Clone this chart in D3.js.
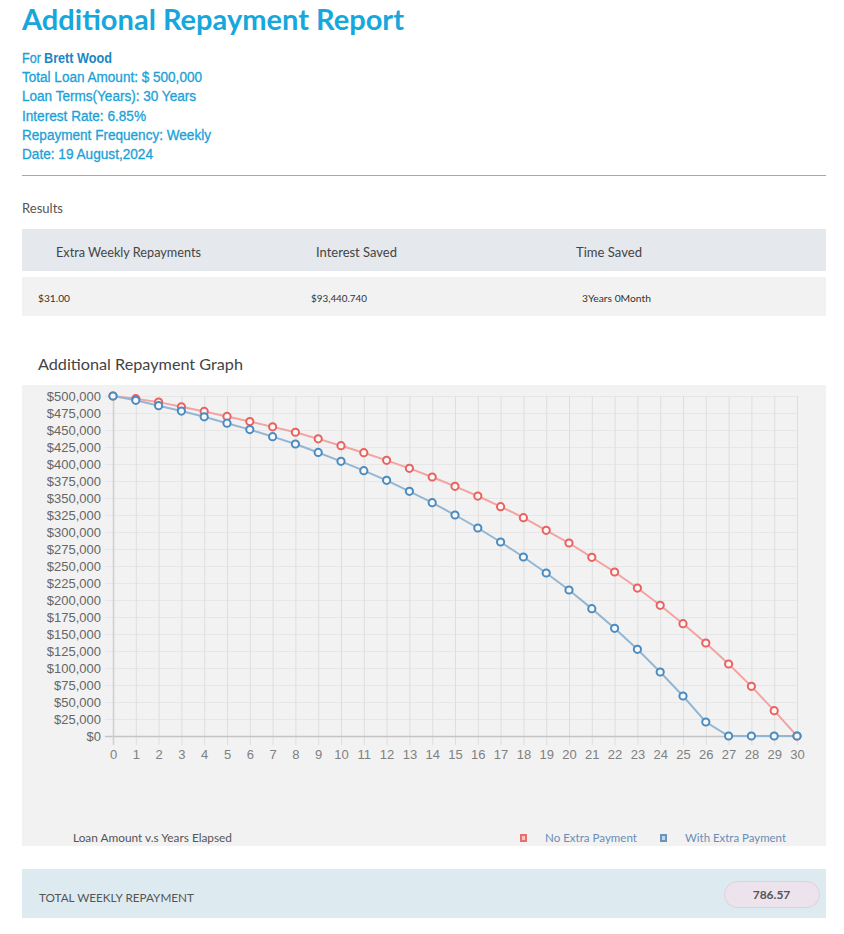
<!DOCTYPE html>
<html>
<head>
<meta charset="utf-8">
<script src="https://cdn.jsdelivr.net/npm/d3@7"></script>
<style>
  html, body { margin: 0; padding: 0; background: #fff; }
  svg { display: block; }
</style>
</head>
<body>
<script>
// ---------- data ----------
const years = d3.range(0, 31);
const noExtra = [500000, 496000, 491000, 484200, 477300, 469900, 462500, 454600, 446700, 437000,
  426900, 416600, 405400, 393600, 380900, 367200, 352900, 337300, 321100, 302400,
  283800, 262700, 241200, 217600, 192200, 165200, 136800, 105900, 73000, 37300, 0];
const withExtra = [500000, 493600, 485700, 477800, 469400, 460000, 450600, 440200, 429400, 417000,
  403900, 390200, 376000, 359800, 343100, 325000, 305900, 285300, 263200, 239700,
  214700, 187300, 158300, 127500, 94100, 58800, 20600, 0, 0, 0, 0];
const yTicks = d3.range(0, 500001, 25000);
const infoLines = [
  ["Total Loan Amount: $ 500,000", 180],
  ["Loan Terms(Years): 30 Years", 174],
  ["Interest Rate: 6.85%", 124],
  ["Repayment Frequency: Weekly", 189],
  ["Date: 19 August,2024", 131]
];
const tableHeaders = ["Extra Weekly Repayments", "Interest Saved", "Time Saved"];
const tableValues = ["$31.00", "$93,440.740", "3Years 0Month"];
const seriesNames = ["No Extra Payment", "With Extra Payment"];
const totalWeekly = "786.57";

// ---------- drawing ----------
const W = 844, H = 934;
const svg = d3.select("body").append("svg").attr("width", W).attr("height", H);

function txt(x, y, s, opts) {
  const t = svg.append("text").attr("x", x).attr("y", y).text(s)
    .attr("font-family", opts.family || "Lato, sans-serif")
    .attr("font-size", opts.size || 12)
    .attr("fill", opts.fill || "#555")
    .attr("font-weight", opts.weight || "normal");
  if (opts.anchor) t.attr("text-anchor", opts.anchor);
  if (opts.len) t.attr("textLength", opts.len).attr("lengthAdjust", "spacingAndGlyphs");
  if (opts.stroke) t.attr("stroke", opts.fill).attr("stroke-width", opts.stroke);
  return t;
}

const ARIAL = "'Liberation Sans', Arial, sans-serif";

// Header
txt(22, 30, "Additional Repayment Report", {size: 29, weight: "bold", fill: "#17a7db", len: 382});
txt(22, 63, "For", {size: 14, fill: "#1ba1d7", family: ARIAL, len: 19, stroke: 0.3});
txt(44, 63, "Brett Wood", {size: 14, fill: "#1a86c6", family: ARIAL, weight: "bold", len: 68});
infoLines.forEach((d, i) => {
  txt(22, 82 + i * 19.3, d[0], {size: 14, fill: "#1ba1d7", family: ARIAL, len: d[1], stroke: 0.3});
});

// HR
svg.append("line").attr("x1", 22).attr("x2", 826).attr("y1", 175.5).attr("y2", 175.5)
  .attr("stroke", "#a9a9a9").attr("stroke-width", 1);

txt(22, 213, "Results", {size: 13, fill: "#555", len: 41});

// Table
svg.append("rect").attr("x", 22).attr("y", 229).attr("width", 804).attr("height", 42).attr("fill", "#e5e8ec");
svg.append("rect").attr("x", 22).attr("y", 277).attr("width", 804).attr("height", 39).attr("fill", "#f2f2f2");
const hx = [56, 316, 576], hl = [145, 81, 66];
tableHeaders.forEach((h, i) => txt(hx[i], 256.5, h, {size: 13, fill: "#444", len: hl[i]}));
const vx = [38, 311, 582], vl = [32, 56, 69];
tableValues.forEach((v, i) => txt(vx[i], 301.5, v, {size: 10, fill: "#333", len: vl[i]}));

// Graph title
txt(38, 369.5, "Additional Repayment Graph", {size: 16, fill: "#444", len: 205});

// Chart panel
svg.append("rect").attr("x", 22).attr("y", 385).attr("width", 804).attr("height", 461).attr("fill", "#f2f2f2");

const x = d3.scaleLinear().domain([0, 30]).range([113, 797]);
const y = d3.scaleLinear().domain([0, 500000]).range([736, 396]);

const g = svg.append("g");
// horizontal grid
g.selectAll("line.hg").data(yTicks.filter(d => d > 0)).join("line")
  .attr("x1", 105).attr("x2", x(30)).attr("y1", d => y(d) + 0.5).attr("y2", d => y(d) + 0.5)
  .attr("stroke", "#e6e6e6").attr("stroke-width", 1);
// vertical grid
g.selectAll("line.vg").data(years.filter(d => d > 0)).join("line")
  .attr("x1", d => x(d) + 0.5).attr("x2", d => x(d) + 0.5).attr("y1", 396).attr("y2", 745)
  .attr("stroke", "#dedede").attr("stroke-width", 1);
// axes lines
g.append("line").attr("x1", 105).attr("x2", x(30)).attr("y1", y(0) + 0.5).attr("y2", y(0) + 0.5)
  .attr("stroke", "#c4c4c4").attr("stroke-width", 1.5);
g.append("line").attr("x1", x(0) + 0.5).attr("x2", x(0) + 0.5).attr("y1", 396).attr("y2", 745)
  .attr("stroke", "#cfcfcf").attr("stroke-width", 1.5);

// axis labels via d3 axes
const yAxis = d3.axisLeft(y).tickValues(yTicks).tickSize(0).tickPadding(12)
  .tickFormat(d => "$" + d3.format(",")(d));
const ya = svg.append("g").attr("transform", `translate(${x(0)},0)`).call(yAxis);
ya.select(".domain").remove();
ya.selectAll("text").attr("font-family", ARIAL).attr("font-size", 13).attr("fill", "#666");

const xAxis = d3.axisBottom(x).tickValues(years).tickSize(0).tickPadding(14).tickFormat(d3.format("d"));
const xa = svg.append("g").attr("transform", `translate(0,${y(0)})`).call(xAxis);
xa.select(".domain").remove();
xa.selectAll("text").attr("font-family", ARIAL).attr("font-size", 13).attr("fill", "#808080");

// series
const series = [
  {name: seriesNames[0], values: noExtra, line: "#f3a3a2", stroke: "#e9625f"},
  {name: seriesNames[1], values: withExtra, line: "#93b6d3", stroke: "#4b8bc0"}
];
const lineGen = d3.line().x((d, i) => x(years[i])).y(d => y(d));
series.forEach(s => {
  svg.append("path").datum(s.values).attr("d", lineGen)
    .attr("fill", "none").attr("stroke", s.line).attr("stroke-width", 2);
});
series.forEach(s => {
  svg.append("g").selectAll("circle").data(s.values).join("circle")
    .attr("cx", (d, i) => x(years[i])).attr("cy", d => y(d)).attr("r", 3.6)
    .attr("fill", "#f7f7f7").attr("stroke", s.stroke).attr("stroke-width", 2);
});

// bottom legend
txt(73, 842, "Loan Amount v.s Years Elapsed", {size: 11, fill: "#555", len: 159});
const legX = [520, 660], legTX = [545, 685], legL = [92, 101];
const legC = [["#e8706c", "#f6c4c2"], ["#6b94b9", "#c5d6e6"]];
seriesNames.forEach((n, i) => {
  svg.append("rect").attr("x", legX[i]).attr("y", 834).attr("width", 7).attr("height", 8).attr("fill", legC[i][0]);
  svg.append("rect").attr("x", legX[i] + 2).attr("y", 836).attr("width", 3).attr("height", 4).attr("fill", legC[i][1]);
  txt(legTX[i], 842, n, {size: 11, fill: "#6a8db5", len: legL[i]});
});

// total weekly bar
svg.append("rect").attr("x", 22).attr("y", 869).attr("width", 804).attr("height", 49).attr("fill", "#ddebf1");
txt(39, 901.5, "TOTAL WEEKLY REPAYMENT", {size: 11, fill: "#555", len: 155});
svg.append("rect").attr("x", 724.5).attr("y", 881.5).attr("width", 95).attr("height", 26).attr("rx", 13)
  .attr("fill", "#ece3ec").attr("stroke", "#dfd0dd");
txt(771.5, 899, totalWeekly, {size: 12, fill: "#555", weight: "bold", anchor: "middle"});
</script>
</body>
</html>
